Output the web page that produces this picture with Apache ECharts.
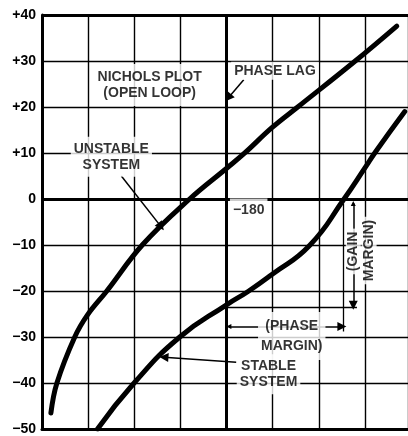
<!DOCTYPE html>
<html>
<head>
<meta charset="utf-8">
<script src="https://cdn.jsdelivr.net/npm/echarts@6/dist/echarts.min.js"></script>
<style>
html, body { margin: 0; padding: 0; background: #fff; }
#chart { width: 408px; height: 436px; }
</style>
</head>
<body>
<div id="chart"></div>
<script>
// Axes: open-loop phase (degrees) across, open-loop gain (dB) up
const phaseMin = -300, phaseMax = -62, phaseStep = 30;
const gainMin = -50, gainMax = 40, gainStep = 10;

// Locus of the unstable system
const unstablePhase = [-294.2, -290.3, -278.7, -270.4, -258.1, -234.5, -204.0, -179.5, -168.5, -150.5, -133.7, -96.3, -69.3];
const unstableGain  = [-46.5, -40.0, -30.0, -25.2, -20.1, -9.9, 0.0, 6.8, 9.9, 15.5, 20.0, 30.0, 37.6];

// Locus of the stable system
const stablePhase = [-263.9, -240.1, -210.4, -180.0, -166.0, -150.5, -126.0, -103.6, -89.9, -83.4, -64.1];
const stableGain  = [-50.0, -40.0, -30.0, -23.0, -20.1, -16.4, -10.1, 0.0, 6.8, 10.1, 19.0];

// Critical phase and the margins of the stable system
const criticalPhase = -180;
const crossoverPhase = -103.8;   // stable locus crosses 0 dB
const gainAtCritical = -23.5;    // stable locus at -180 deg

// Text notes: [phase, gain, text]
const notes = [
  [-230.0, 24.8, 'NICHOLS PLOT\n(OPEN LOOP)'],
  [-148.5, 27.9, 'PHASE LAG'],
  [-254.9, 9.2, 'UNSTABLE\nSYSTEM'],
  [-165.6, -2.5, '\u2212180'],
  [-137.6, -29.8, '(PHASE\nMARGIN)'],
  [-152.7, -38.1, 'STABLE\nSYSTEM']
];
// Vertical notes along the gain-margin arrow
const sideNotes = [
  [-97.6, -11.4, '(GAIN'],
  [-87.3, -11.2, 'MARGIN)']
];

// Pointer arrows: [fromPhase, fromGain, toPhase, toGain]
const pointers = [
  [-248.4, 5.0, -222.6, -6.0],
  [-168.8, 25.9, -178.8, 22.0],
  [-173.7, -35.5, -220.7, -34.4]
];

const zip = (xs, ys) => xs.map((x, i) => [x, ys[i]]);
const gainLabel = v => v > 0 ? '+' + v : (v < 0 ? '\u2212' + Math.abs(v) : '0');

const ink = '#000';
const textBase = {
  show: true, position: 'inside', color: ink, fontFamily: 'Liberation Sans, Arial, sans-serif',
  fontWeight: 'bold', fontSize: 14, backgroundColor: '#fff', align: 'center', verticalAlign: 'middle'
};

const chart = echarts.init(document.getElementById('chart'), null, { renderer: 'canvas' });
chart.setOption({
  animation: false,
  backgroundColor: '#fff',
  grid: { left: 42, right: -3, top: 15, bottom: 6, containLabel: false },
  xAxis: {
    type: 'value', min: phaseMin, max: phaseMax, interval: phaseStep,
    axisLine: { show: true, onZero: false, lineStyle: { color: ink, width: 3 } },
    axisTick: { show: false }, axisLabel: { show: false },
    splitLine: { show: true, lineStyle: { color: ink, width: 1.4 } }
  },
  yAxis: {
    type: 'value', min: gainMin, max: gainMax, interval: gainStep,
    axisLine: { show: true, onZero: false, lineStyle: { color: ink, width: 3 } },
    axisTick: { show: false },
    axisLabel: {
      margin: 6, color: ink, fontWeight: 'bold', fontSize: 14,
      fontFamily: 'Liberation Sans, Arial, sans-serif', formatter: gainLabel
    },
    splitLine: { show: true, lineStyle: { color: ink, width: 1.4 } }
  },
  series: [
    {
      // heavy reference lines: top frame, 0 dB and -180 deg
      type: 'lines', coordinateSystem: 'cartesian2d', z: 1, silent: true,
      lineStyle: { color: ink, width: 3, opacity: 1 },
      data: [
        { coords: [[phaseMin, gainMax], [phaseMax, gainMax]] },
        { coords: [[phaseMin, 0], [phaseMax, 0]] },
        { coords: [[criticalPhase, gainMin], [criticalPhase, gainMax]] }
      ]
    },
    {
      name: 'Unstable system', type: 'line', z: 2, silent: true,
      data: zip(unstablePhase, unstableGain), showSymbol: false,
      smooth: 0.4,
      lineStyle: { color: ink, width: 5, cap: 'round' }
    },
    {
      name: 'Stable system', type: 'line', z: 2, silent: true,
      data: zip(stablePhase, stableGain), showSymbol: false,
      smooth: 0.5,
      lineStyle: { color: ink, width: 5, cap: 'round' }
    },
    {
      // projection lines for the margins
      type: 'lines', coordinateSystem: 'cartesian2d', z: 3, silent: true,
      lineStyle: { color: ink, width: 1.3, opacity: 1 },
      data: [
        { coords: [[crossoverPhase, -1], [crossoverPhase, -28.8]] },
        { coords: [[criticalPhase, gainAtCritical], [-95.2, gainAtCritical]] }
      ]
    },
    {
      // single-headed pointers
      type: 'lines', coordinateSystem: 'cartesian2d', z: 3, silent: true,
      symbol: ['none', 'triangle'], symbolSize: [5, 9],
      lineStyle: { color: ink, width: 1.5, opacity: 1 },
      data: pointers.map(p => ({ coords: [[p[0], p[1]], [p[2], p[3]]] }))
    },
    {
      // double-headed margin arrows
      type: 'lines', coordinateSystem: 'cartesian2d', z: 3, silent: true,
      symbol: ['triangle', 'triangle'], symbolSize: [5, 9],
      lineStyle: { color: ink, width: 1.5, opacity: 1 },
      data: [
        { coords: [[criticalPhase + 1.5, -27.7], [crossoverPhase - 1.2, -27.7]] },
        { coords: [[-97.6, -1.0], [-97.6, gainAtCritical + 0.4]] }
      ]
    },
    {
      type: 'scatter', z: 4, silent: true, symbol: 'rect', symbolSize: 1,
      itemStyle: { color: 'rgba(0,0,0,0)' },
      label: Object.assign({}, textBase, { lineHeight: 16, padding: [4, 3] }),
      data: notes.map(n => {
        const item = { value: [n[0], n[1]], label: { formatter: n[2] } };
        if (n[2].indexOf('PHASE\n') >= 0) item.label.lineHeight = 20;
        if (n[2].indexOf('NICHOLS') >= 0) item.label.padding = [5, 4];
        if (n[2] === 'PHASE LAG') item.label.padding = [1, 3];
        return item;
      })
    },
    {
      type: 'scatter', z: 4, silent: true, symbol: 'rect', symbolSize: 1,
      itemStyle: { color: 'rgba(0,0,0,0)' },
      label: Object.assign({}, textBase, { rotate: 90, lineHeight: 15, padding: [0, 3] }),
      data: sideNotes.map(n => ({ value: [n[0], n[1]], label: { formatter: n[2] } }))
    }
  ]
});
</script>
</body>
</html>
